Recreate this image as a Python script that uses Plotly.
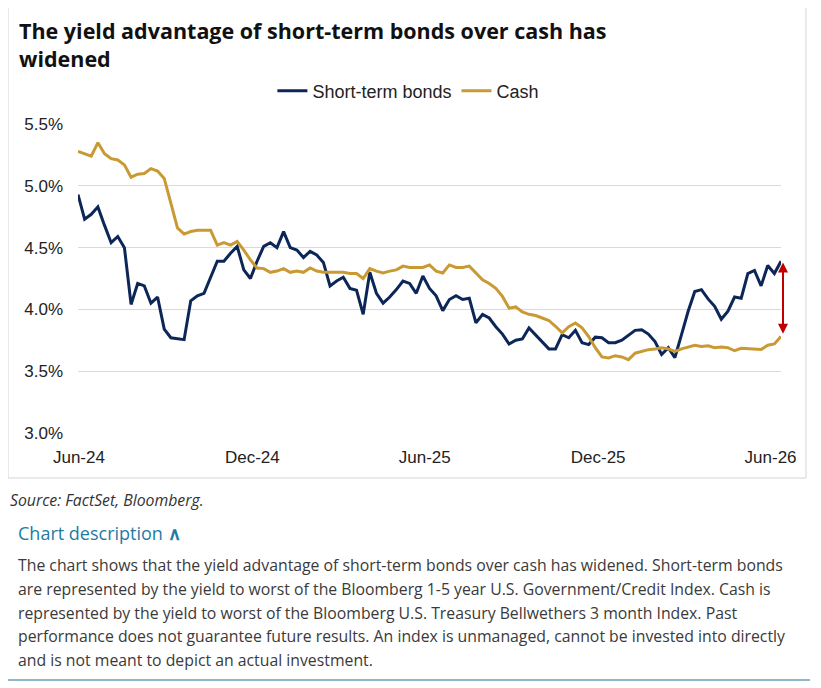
import pandas as pd
import plotly.graph_objects as go

# weekly yields (%)
short_term_bonds = [
    4.93, 4.73, 4.77, 4.83, 4.68, 4.54, 4.59, 4.50, 4.04, 4.21,
    4.19, 4.05, 4.10, 3.84, 3.77, 3.76, 3.755, 4.07, 4.11, 4.13,
    4.26, 4.39, 4.39, 4.455, 4.51, 4.32, 4.25, 4.39, 4.51, 4.54,
    4.50, 4.63, 4.50, 4.48, 4.42, 4.47, 4.44, 4.38, 4.19, 4.23,
    4.26, 4.17, 4.155, 3.96, 4.30, 4.13, 4.05, 4.10, 4.16, 4.23,
    4.21, 4.13, 4.27, 4.17, 4.11, 3.99, 4.08, 4.11, 4.08, 4.09,
    3.89, 3.96, 3.93, 3.86, 3.80, 3.72, 3.75, 3.76, 3.85, 3.795,
    3.74, 3.68, 3.68, 3.795, 3.77, 3.83, 3.73, 3.715, 3.775, 3.77,
    3.73, 3.73, 3.75, 3.79, 3.83, 3.835, 3.80, 3.74, 3.635, 3.69,
    3.61, 3.795, 3.985, 4.145, 4.16, 4.085, 4.025, 3.92, 3.985, 4.10,
    4.09, 4.29, 4.315, 4.19, 4.355, 4.29, 4.39,
]
cash = [
    5.28, 5.26, 5.24, 5.35, 5.26, 5.22, 5.21, 5.17, 5.07, 5.095,
    5.10, 5.14, 5.12, 5.06, 4.86, 4.66, 4.61, 4.63, 4.64, 4.64,
    4.64, 4.52, 4.54, 4.52, 4.55, 4.48, 4.40, 4.335, 4.33, 4.30,
    4.31, 4.33, 4.30, 4.31, 4.30, 4.335, 4.31, 4.30, 4.30, 4.30,
    4.30, 4.29, 4.29, 4.25, 4.33, 4.31, 4.295, 4.31, 4.32, 4.35,
    4.34, 4.34, 4.34, 4.36, 4.31, 4.295, 4.36, 4.34, 4.34, 4.35,
    4.295, 4.24, 4.21, 4.17, 4.105, 4.01, 4.02, 3.98, 3.96, 3.95,
    3.93, 3.91, 3.863, 3.81, 3.86, 3.89, 3.85, 3.78, 3.69, 3.615,
    3.607, 3.625, 3.615, 3.593, 3.645, 3.66, 3.674, 3.68, 3.69, 3.68,
    3.66, 3.68, 3.695, 3.71, 3.70, 3.705, 3.69, 3.695, 3.69, 3.665,
    3.685, 3.68, 3.675, 3.675, 3.71, 3.72, 3.78,
]
dates = pd.date_range("2024-05-31", periods=len(cash), freq="7D")
tick_dates = ["2024-06-01", "2024-12-01", "2025-06-01", "2025-12-01", "2026-06-01"]

title_lines = ["The yield advantage of short-term bonds over cash has", "widened"]
source = "Source: FactSet, Bloomberg."
description_lines = [
    "The chart shows that the yield advantage of short-term bonds over cash has widened. Short-term bonds",
    "are represented by the yield to worst of the Bloomberg 1-5 year U.S. Government/Credit Index. Cash is",
    "represented by the yield to worst of the Bloomberg U.S. Treasury Bellwethers 3 month Index. Past",
    "performance does not guarantee future results. An index is unmanaged, cannot be invested into directly",
    "and is not meant to depict an actual investment.",
]

W, H = 821, 688
OFF = 8  # page body margin in the browser
L, R, T, B = 78, 781, 124, 433  # plot area in window pixels


def px(x):
    return (x - L) / (R - L)


def py(y):
    return (B - y) / (B - T)


NAVY = "#0c2757"
GOLD = "#c99a34"
TEXT = "Open Sans"
AXIS = "Liberation Sans"

fig = go.Figure()
fig.add_trace(go.Scatter(x=dates, y=short_term_bonds, name="Short-term bonds",
                         mode="lines", line=dict(color=NAVY, width=3)))
fig.add_trace(go.Scatter(x=dates, y=cash, name="Cash",
                         mode="lines", line=dict(color=GOLD, width=3)))

fig.update_layout(
    width=W, height=H,
    margin=dict(l=L - OFF, r=W - R + OFF, t=T - OFF, b=H - B + OFF),
    paper_bgcolor="white", plot_bgcolor="white",
    legend=dict(orientation="h", x=0.47, xanchor="center", y=py(91), yanchor="middle",
                font=dict(family=AXIS, size=18, color="#222222"), itemwidth=30),
    showlegend=True,
)
fig.update_xaxes(range=[dates[0], dates[-1]], tickvals=tick_dates, tickformat="%b-%y",
                 showgrid=False, showline=False, zeroline=False, ticks="",
                 ticklabelstandoff=12,
                 tickfont=dict(family=AXIS, size=17, color="#222222"))
fig.update_yaxes(range=[2.999, 5.501], dtick=0.5, tick0=3.0, tickformat=".1f", ticksuffix="%",
                 showgrid=True, gridcolor="#d9d9d9", gridwidth=1, zeroline=False,
                 showline=False, ticks="", ticklabelstandoff=14,
                 tickfont=dict(family=AXIS, size=17, color="#222222"))

# gap arrow at the latest observation
fig.add_annotation(x=dates[-1], y=short_term_bonds[-1] - 0.01, ax=dates[-1], ay=cash[-1] + 0.01,
                   xref="x", yref="y", axref="x", ayref="y", text="", showarrow=True,
                   arrowhead=2, arrowside="end+start", arrowsize=1, arrowwidth=2,
                   arrowcolor="#c00000", standoff=0, startstandoff=0, xshift=2)

# chart frame and bottom rule
fig.add_shape(type="rect", xref="paper", yref="paper", x0=px(8), x1=px(806), y0=py(478), y1=py(7),
              line=dict(color="#d4d4d4", width=1), layer="below")
fig.add_shape(type="line", xref="paper", yref="paper", x0=px(8), x1=px(810), y0=py(680), y1=py(680),
              line=dict(color="#8fb7cc", width=2))

# title
for i, line_text in enumerate(title_lines):
    fig.add_annotation(xref="paper", yref="paper", x=px(17), y=py(30 + 29 * i),
                       xanchor="left", yanchor="middle", text=line_text, showarrow=False,
                       font=dict(family=TEXT, size=21.5, color="#111111", weight="bold"))

fig.add_annotation(xref="paper", yref="paper", x=px(8), y=py(500), xanchor="left", yanchor="middle",
                   text=source, showarrow=False,
                   font=dict(family=TEXT, size=15.8, color="#333333", style="italic"))
fig.add_annotation(xref="paper", yref="paper", x=px(16), y=py(533), xanchor="left", yanchor="middle",
                   text="Chart description <b>∧</b>", showarrow=False,
                   font=dict(family=TEXT, size=18, color="#1f7ba3"))
for i, line_text in enumerate(description_lines):
    fig.add_annotation(xref="paper", yref="paper", x=px(16), y=py(565 + 23.8 * i),
                       xanchor="left", yanchor="middle", text=line_text, showarrow=False,
                       font=dict(family=TEXT, size=15.8, color="#3a3a3a"))

fig.write_html("out.html")
